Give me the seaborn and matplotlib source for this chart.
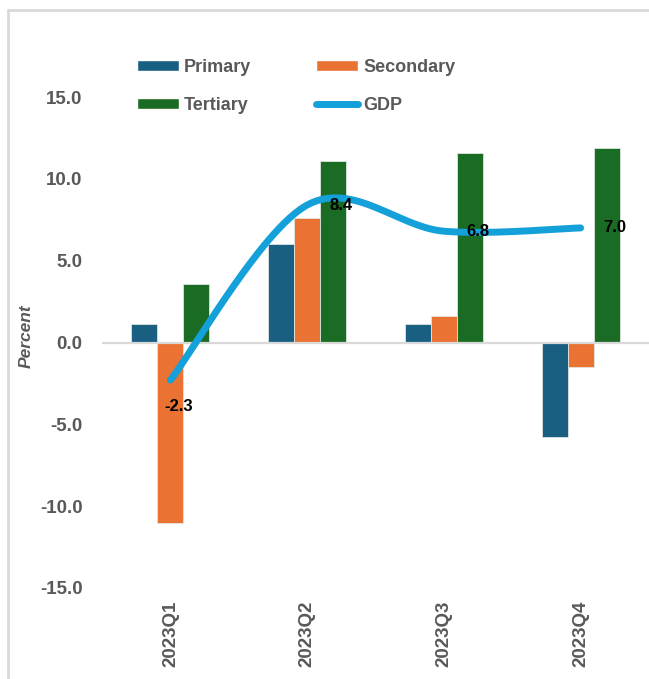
import numpy as np
import pandas as pd
import matplotlib
matplotlib.use("Agg")
import matplotlib.pyplot as plt
from matplotlib.patches import Patch
from matplotlib.lines import Line2D
import seaborn as sns

# Sector growth by quarter (percent) and overall GDP growth
quarters = ["2023Q1", "2023Q2", "2023Q3", "2023Q4"]
primary = [1.1, 6.0, 1.1, -5.8]
secondary = [-11.0, 7.6, 1.6, -1.5]
tertiary = [3.6, 11.1, 11.6, 11.9]
gdp = [-2.3, 8.4, 6.8, 7.0]
sectors = ["Primary", "Secondary", "Tertiary"]
yticks = [-15.0, -10.0, -5.0, 0.0, 5.0, 10.0, 15.0]

colors = {"Primary": "#185f82", "Secondary": "#ea7232", "Tertiary": "#1a6b24"}
gdp_color = "#14a0d8"
text_grey = "#595959"

sns.set_theme(style="white")
plt.rcParams["font.family"] = ["Liberation Sans", "DejaVu Sans"]

df = pd.DataFrame({
    "quarter": np.repeat(quarters, 3),
    "sector": sectors * len(quarters),
    "value": [v for trio in zip(primary, secondary, tertiary) for v in trio],
})

fig = plt.figure(figsize=(6.49, 6.79), dpi=100)
ax = fig.add_axes([102 / 649, 1 - 588 / 679, 1 - 102 / 649, (588 - 97) / 679])

sns.barplot(data=df, x="quarter", y="value", hue="sector", order=quarters,
            hue_order=sectors, palette=colors, width=0.57, dodge=True,
            edgecolor="#dfe6e0", linewidth=0.6, legend=False, ax=ax,
            errorbar=None, saturation=1)

ax.axhline(0, color="#d9d9d9", lw=1.6, zorder=1)


def smooth_curve(xs, ys, n=60):
    """Bezier smoothing through every point (Catmull-Rom style tangents)."""
    pts = np.column_stack([xs, ys]).astype(float)
    out = []
    for i in range(len(pts) - 1):
        p_prev = pts[i - 1] if i > 0 else pts[i]
        p0, p1 = pts[i], pts[i + 1]
        p_next = pts[i + 2] if i + 2 < len(pts) else pts[i + 1]
        c1 = p0 + (p1 - p_prev) / 6
        c2 = p1 - (p_next - p0) / 6
        t = np.linspace(0, 1, n)[:, None]
        seg = ((1 - t) ** 3) * p0 + 3 * t * (1 - t) ** 2 * c1 + 3 * t ** 2 * (1 - t) * c2 + t ** 3 * p1
        out.append(seg if i == 0 else seg[1:])
    out = np.vstack(out)
    return out[:, 0], out[:, 1]


xpos = np.arange(len(quarters))
sx, sy = smooth_curve(xpos, gdp)
ax.plot(sx, sy, color=gdp_color, lw=5, solid_capstyle="round", zorder=4)

label_font = dict(fontsize=12, fontweight="bold", color="black", family="Liberation Sans")
for i, v in enumerate(gdp):
    if i == 0:
        ax.annotate(f"{v:.1f}", (xpos[i], v), xytext=(6, -19), textcoords="offset points",
                    ha="center", va="center", zorder=5, **label_font)
    else:
        ax.annotate(f"{v:.1f}", (xpos[i], v), xytext=(16, 0), textcoords="offset points",
                    ha="left", va="center", zorder=5, **label_font)

ax.set_xlim(-0.5, 3.5)
ax.set_ylim(-15, 15)
ax.set_yticks(yticks)
ax.set_yticklabels([f"{t:.1f}" for t in yticks], fontsize=13.5, fontweight="bold",
                   color=text_grey)
ax.set_xticks(xpos)
ax.set_xticklabels(quarters, rotation=90, fontsize=13.5, fontweight="bold", color=text_grey)
ax.tick_params(axis="y", length=0, pad=14)
ax.tick_params(axis="x", length=0, pad=9)
ax.set_xlabel("")
ax.set_ylabel("Percent", fontsize=12.5, fontweight="bold", style="italic", color=text_grey)
ax.yaxis.set_label_coords(-0.124, 0.513)
for s in ax.spines.values():
    s.set_visible(False)

# legend filled row by row: Primary, Secondary / Tertiary, GDP
handles = [
    Patch(facecolor=colors["Primary"], label="Primary"),
    Patch(facecolor=colors["Tertiary"], label="Tertiary"),
    Patch(facecolor=colors["Secondary"], label="Secondary"),
    Line2D([0], [0], color=gdp_color, lw=5, solid_capstyle="round", label="GDP"),
]
fig.legend(handles=handles, ncol=2, loc="upper left",
           bbox_to_anchor=(137 / 649, 1 - 59 / 679), frameon=False,
           prop={"size": 13, "weight": "bold"},
           labelcolor=text_grey, handlelength=2.3, handleheight=0.55,
           handletextpad=0.3, columnspacing=3.6, labelspacing=1.15, borderpad=0,
           borderaxespad=0)

# chart frame edges
fig.add_artist(Line2D([8 / 649, 8 / 649], [0, 1 - 10 / 679], transform=fig.transFigure,
                      color="#d9d9d9", lw=2))
fig.add_artist(Line2D([8 / 649, 1], [1 - 10 / 679, 1 - 10 / 679], transform=fig.transFigure,
                      color="#d9d9d9", lw=2))

fig.savefig("out.png", dpi=100)
